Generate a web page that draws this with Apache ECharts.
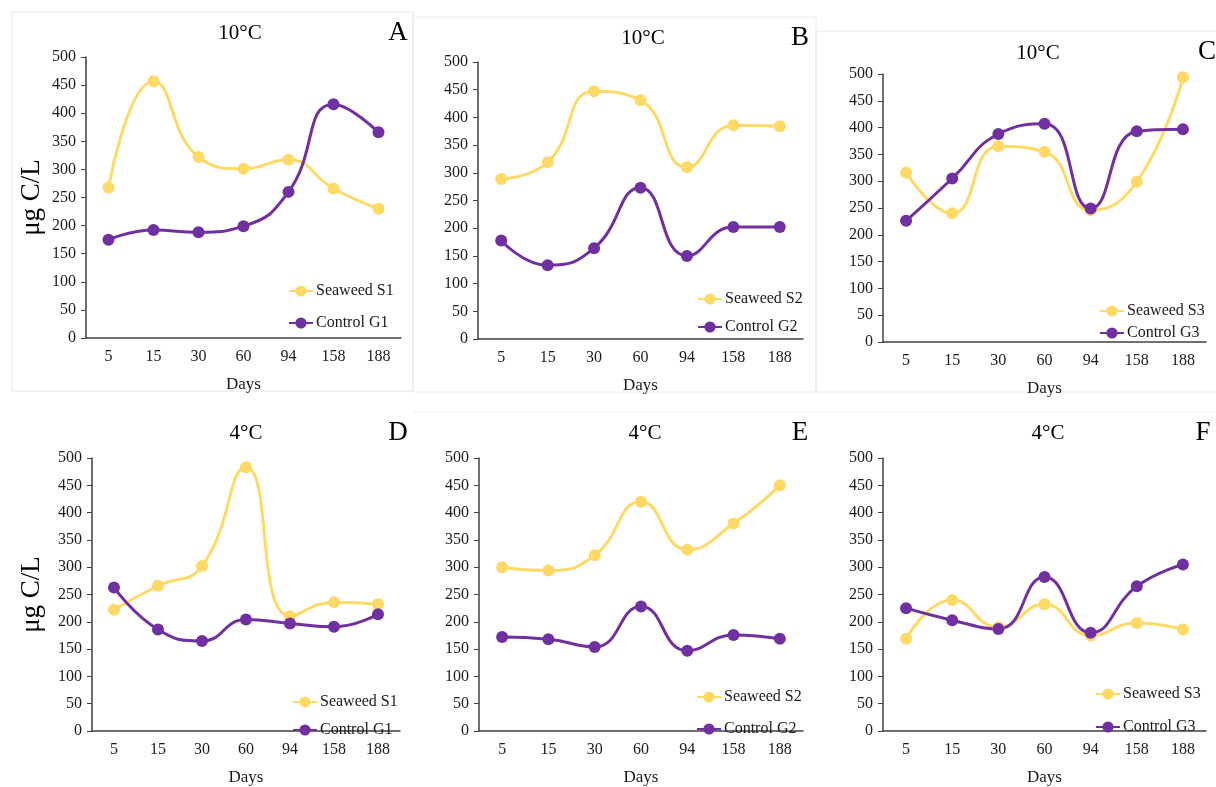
<!DOCTYPE html>
<html lang="en">
<head>
    <meta charset="UTF-8">
    <title>Seaweed vs Control</title>
    <script src="https://cdn.jsdelivr.net/npm/echarts@6/dist/echarts.min.js"></script>
    <style>
        html, body { margin: 0; padding: 0; background: #fff; }
    </style>
</head>
<body>
<div id="main" style="width: 1216px;height:787px;"></div>
<script>
    // data
    var days = ['5', '15', '30', '60', '94', '158', '188'];
    var yTicks = [0, 50, 100, 150, 200, 250, 300, 350, 400, 450, 500];

    var seaweedA = [268, 457, 322, 301, 317, 266, 230];
    var controlA = [175, 192, 188, 199, 260, 416, 366];
    var seaweedB = [289, 319, 447, 431, 310, 386, 384];
    var controlB = [178, 133, 164, 273, 150, 202, 202];
    var seaweedC = [316, 240, 365, 355, 246, 299, 494];
    var controlC = [226, 305, 388, 407, 249, 393, 397];
    var seaweedD = [222, 266, 302, 483, 210, 236, 232];
    var controlD = [263, 186, 165, 204, 197, 191, 214];
    var seaweedE = [300, 294, 322, 420, 332, 380, 450];
    var controlE = [172, 168, 154, 228, 147, 176, 169];
    var seaweedF = [169, 240, 190, 232, 175, 198, 186];
    var controlF = [225, 203, 187, 282, 180, 265, 305];

    var yellow = '#FFD966';
    var purple = '#7030A0';
    var serif = 'Liberation Serif';

    // panel layout (pixels)
    var panels = [
        { key: 'A', temp: '10°C', s: seaweedA, c: controlA, sName: 'Seaweed S1', cName: 'Control G1',
          grid: [86, 57, 315, 281], title: [240, 33], letter: [398, 33], legend: [283, 278, 16], yGap: 41 },
        { key: 'B', temp: '10°C', s: seaweedB, c: controlB, sName: 'Seaweed S2', cName: 'Control G2',
          grid: [478, 62, 325, 277], title: [643, 38], letter: [800, 38], legend: [692, 286, 12], yGap: 0 },
        { key: 'C', temp: '10°C', s: seaweedC, c: controlC, sName: 'Seaweed S3', cName: 'Control G3',
          grid: [883, 74, 323, 268], title: [1038, 53], letter: [1207, 52], legend: [1094, 298, 6], yGap: 0 },
        { key: 'D', temp: '4°C', s: seaweedD, c: controlD, sName: 'Seaweed S1', cName: 'Control G1',
          grid: [92, 458, 308, 283], title: [246, 433], letter: [398, 433], legend: [287, 689, 12], yGap: 47 },
        { key: 'E', temp: '4°C', s: seaweedE, c: controlE, sName: 'Seaweed S2', cName: 'Control G2',
          grid: [479, 458, 324, 284], title: [645, 433], letter: [800, 433], legend: [691, 684, 16], yGap: 0 },
        { key: 'F', temp: '4°C', s: seaweedF, c: controlF, sName: 'Seaweed S3', cName: 'Control G3',
          grid: [883, 458, 323, 283], title: [1048, 433], letter: [1203, 433], legend: [1090, 681, 17], yGap: 0 }
    ];

    var grids = [], xAxes = [], yAxes = [], series = [], legends = [];
    var graphics = [
        // faint panel frames
        { type: 'rect', shape: { x: 12, y: 12, width: 401, height: 379 }, style: { fill: 'none', stroke: '#e4e4e4', lineWidth: 1 } },
        { type: 'rect', shape: { x: 413, y: 17, width: 403, height: 375 }, style: { fill: 'none', stroke: '#ececec', lineWidth: 1 } },
        { type: 'rect', shape: { x: 816, y: 31, width: 410, height: 361 }, style: { fill: 'none', stroke: '#e8e8e8', lineWidth: 1 } },
        { type: 'line', shape: { x1: 413, y1: 412, x2: 1216, y2: 412 }, style: { stroke: '#f0f0f0', lineWidth: 1 } }
    ];

    panels.forEach(function (p, i) {
        grids.push({ left: p.grid[0], top: p.grid[1], width: p.grid[2], height: p.grid[3], containLabel: false });
        xAxes.push({
            type: 'category', gridIndex: i, data: days, boundaryGap: true,
            name: 'Days', nameLocation: 'middle', nameGap: 38,
            nameTextStyle: { fontFamily: serif, fontSize: 17, color: '#1a1a1a' },
            axisLine: { lineStyle: { color: '#404040', width: 1.5 } },
            axisTick: { show: false },
            axisLabel: { fontFamily: serif, fontSize: 16, color: '#1a1a1a', margin: 11 }
        });
        yAxes.push({
            type: 'value', gridIndex: i, min: yTicks[0], max: yTicks[yTicks.length - 1], interval: 50,
            name: p.yGap ? 'μg C/L' : '', nameLocation: 'middle', nameGap: p.yGap, nameRotate: 90,
            nameTextStyle: { fontFamily: serif, fontSize: 27, color: '#000' },
            axisLine: { show: true, lineStyle: { color: '#404040', width: 1.5 } },
            axisTick: { show: true, length: 5, lineStyle: { color: '#404040' } },
            splitLine: { show: false },
            axisLabel: { fontFamily: serif, fontSize: 16, color: '#1a1a1a', margin: 10 }
        });
        series.push({
            name: p.sName, type: 'line', xAxisIndex: i, yAxisIndex: i, data: p.s,
            smooth: 0.5, symbol: 'circle', symbolSize: 12,
            lineStyle: { color: yellow, width: 3 }, itemStyle: { color: yellow }
        });
        series.push({
            name: p.cName, type: 'line', xAxisIndex: i, yAxisIndex: i, data: p.c,
            smooth: 0.5, symbol: 'circle', symbolSize: 12,
            lineStyle: { color: purple, width: 3 }, itemStyle: { color: purple }
        });
        legends.push({
            orient: 'vertical', left: p.legend[0], top: p.legend[1], itemGap: p.legend[2],
            itemWidth: 24, itemHeight: 14,
            data: [p.sName, p.cName],
            textStyle: { fontFamily: serif, fontSize: 16, color: '#1a1a1a', padding: [0, 0, 0, -2] }
        });
        graphics.push({
            type: 'text', x: p.title[0], y: p.title[1],
            style: { text: p.temp, font: '21px "Liberation Serif"', fill: '#000', align: 'center', verticalAlign: 'middle' }
        });
        graphics.push({
            type: 'text', x: p.letter[0], y: p.letter[1],
            style: { text: p.key, font: '27px "Liberation Serif"', fill: '#000', align: 'center', verticalAlign: 'middle' }
        });
    });

    var myChart = echarts.init(document.getElementById('main'));
    var option = {
        backgroundColor: '#fff',
        animation: false,
        grid: grids,
        xAxis: xAxes,
        yAxis: yAxes,
        legend: legends,
        series: series,
        graphic: graphics
    };
    myChart.setOption(option);
</script>
</body>
</html>
